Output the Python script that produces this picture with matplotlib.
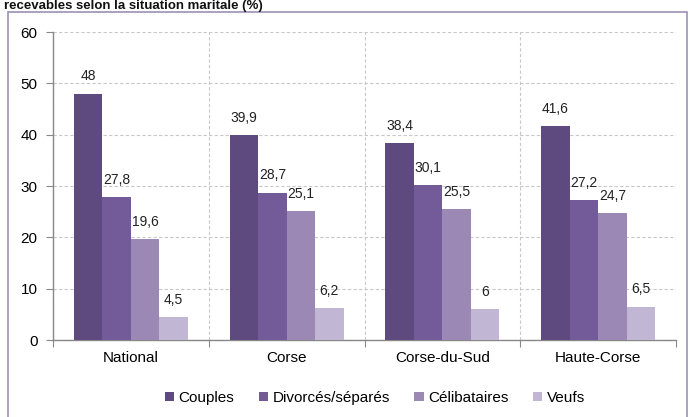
import matplotlib
matplotlib.use("Agg")
import matplotlib.pyplot as plt
from matplotlib.patches import Rectangle
import numpy as np

categories = ["National", "Corse", "Corse-du-Sud", "Haute-Corse"]
series_names = ["Couples", "Divorcés/séparés", "Célibataires", "Veufs"]
couples = [48, 39.9, 38.4, 41.6]
divorces = [27.8, 28.7, 30.1, 27.2]
celibataires = [19.6, 25.1, 25.5, 24.7]
veufs = [4.5, 6.2, 6, 6.5]
colors = ["#5e4a7e", "#735a99", "#9b88b5", "#c1b6d3"]
title = "recevables selon la situation maritale (%)"

W, H = 691, 417
fig = plt.figure(figsize=(W / 100, H / 100), dpi=100)
plt.rcParams['font.family'] = ['Liberation Sans', 'DejaVu Sans']

# frame border
fig.patches.append(Rectangle((8 / W, -0.05), (687 - 8) / W, (H - 12) / H + 0.05,
                             transform=fig.transFigure, fill=False,
                             edgecolor="#9d91b5", linewidth=1.2))
fig.text(4 / W, (H - 9.5) / H, title, fontsize=9.5, fontweight="bold",
         ha="left", va="baseline", color="#111111")

ax = fig.add_axes([53 / W, (H - 340) / H, (676 - 53) / W, (340 - 32) / H])
ax.set_xlim(0, 4)
ax.set_ylim(0, 60)

data = [couples, divorces, celibataires, veufs]
bw = 0.183
x = np.arange(len(categories))
for i, (vals, c) in enumerate(zip(data, colors)):
    pos = x + 0.5 + (i - 1.5) * bw
    ax.bar(pos, vals, width=bw, color=c, label=series_names[i], zorder=3)
    for p, v in zip(pos, vals):
        lab = (f"{v:g}").replace(".", ",")
        ax.text(p, v + 2.0, lab, ha="center", va="bottom", fontsize=10,
                color="#222222", zorder=4)

ax.set_yticks(np.arange(0, 61, 10))
ax.set_xticks(np.arange(0, 5))
ax.set_xticklabels([])
ax.set_xticks(x + 0.5, minor=True)
ax.set_xticklabels(categories, minor=True, fontsize=11)
ax.tick_params(axis="x", which="minor", length=0, pad=8)
ax.tick_params(axis="x", which="major", length=5, color="#888888", direction="out")
ax.tick_params(axis="y", length=5, color="#888888", labelsize=11, pad=6)
ax.grid(True, axis="y", linestyle=(0, (3, 2)), color="#c8c8c8", linewidth=0.8, zorder=0)
ax.grid(True, axis="x", which="major", linestyle=(0, (3, 2)), color="#c8c8c8",
        linewidth=0.8, zorder=0)
for s in ["top", "right"]:
    ax.spines[s].set_visible(False)
for s in ["left", "bottom"]:
    ax.spines[s].set_color("#888888")
    ax.spines[s].set_linewidth(1.0)

leg = fig.legend(loc="center", bbox_to_anchor=(375 / W, (H - 398) / H), ncol=4,
                 frameon=False, fontsize=11, handlelength=0.6, handleheight=0.6,
                 handletextpad=0.3, columnspacing=1.6)

fig.savefig("out.png", dpi=100)
